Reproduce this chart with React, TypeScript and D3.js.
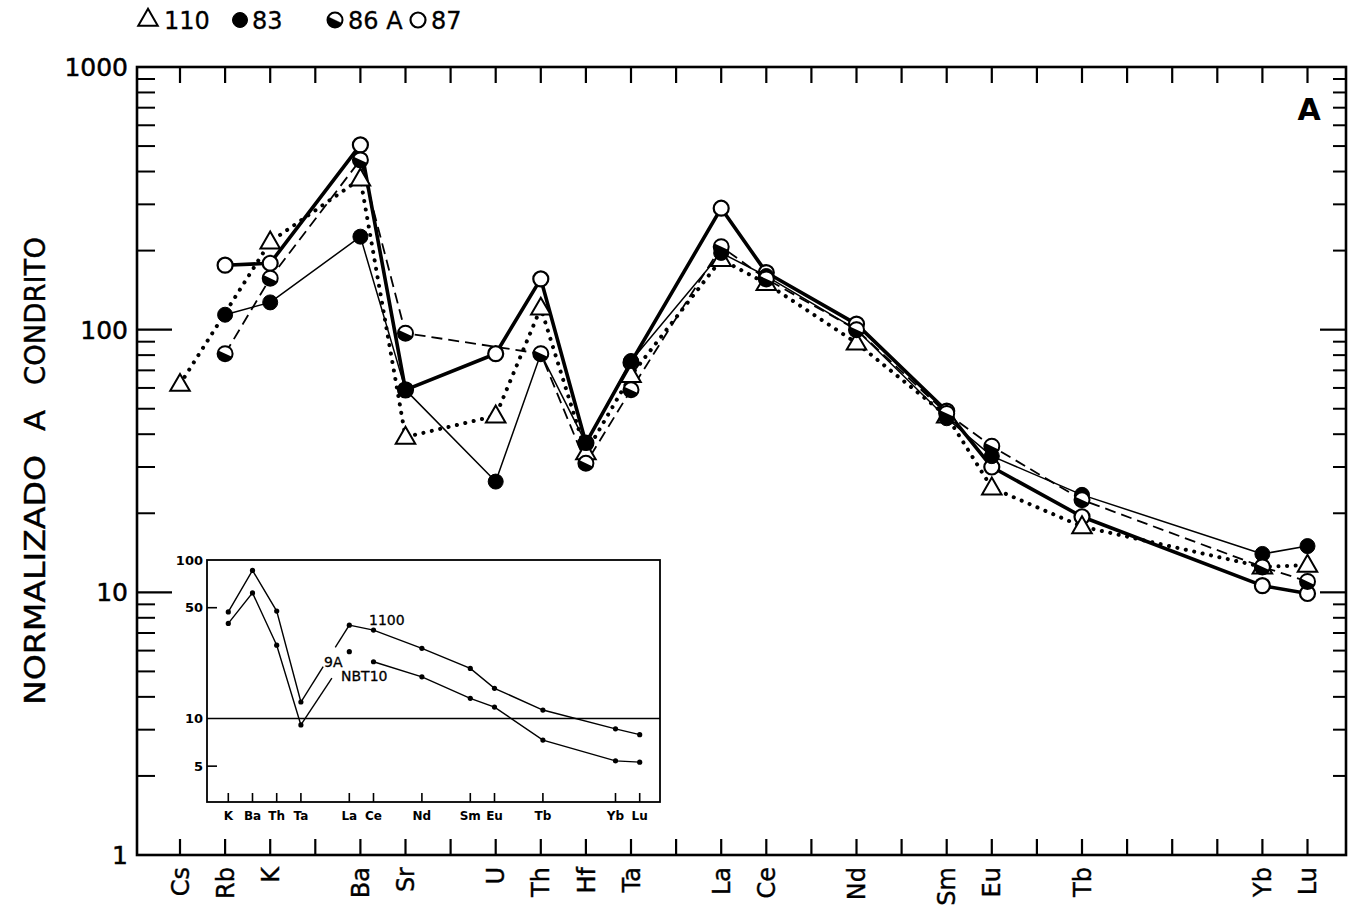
import React from 'react';
import * as d3 from 'd3';

// ---------- data ----------
const elements = ['Cs', 'Rb', 'K', 'Ba', 'Sr', 'U', 'Th', 'Hf', 'Ta', 'La', 'Ce', 'Nd', 'Sm', 'Eu', 'Tb', 'Yb', 'Lu'];
const elementSlots = [0, 1, 2, 4, 5, 7, 8, 9, 10, 12, 13, 15, 17, 18, 20, 24, 25];
const s110 = [62, null, 216, 375, 39, 47, 121, 34, 67, 185, 150, 89, 47, 25, 17.8, 12.5, 12.7];
const s83 = [null, 114, 127, 226, 59, 26.4, 81, 37, 76, 196, 160, 100, 46, 33, 23.5, 14, 15];
const s86A = [null, 81, 157, 443, 97, null, 81, 31, 59, 207, 156, 100, 48, 36, 22.5, 12.5, 11];
const s87 = [null, 176, 179, 505, 59, 81, 156, 37, 75, 290, 165, 105, 49, 30, 19.4, 10.6, 9.9];
const yTickLabels = [1, 10, 100, 1000];

const insetElements = ['K', 'Ba', 'Th', 'Ta', 'La', 'Ce', 'Nd', 'Sm', 'Eu', 'Tb', 'Yb', 'Lu'];
const insetSlots = [0, 1, 2, 3, 5, 6, 8, 10, 11, 13, 16, 17];
const s1100 = [47, 86, 47.6, 12.7, 38.8, 36.1, 27.7, 20.7, 15.5, 11.3, 8.6, 7.9];
const sNBT10 = [39.8, 62, 29, 9.1, 26.4, 22.8, 18.3, 13.4, 11.8, 7.3, 5.4, 5.3];
const insetTickLabels = [5, 10, 50, 100];

type Pt = [number, number];

const FONT = 'DejaVu Sans, Verdana, sans-serif';

// ---------- layout ----------
const W = 1352, H = 907;
const frame = { left: 137, right: 1346, top: 67, bottom: 855 };
const x = d3.scaleLinear().domain([0, 25]).range([180, 1307.5]);
const y = d3.scaleLog().domain([1, 1000]).range([855, 67]);

const inset = { left: 207, right: 660, top: 560, bottom: 802 };
const xi = d3.scaleLinear().domain([0, 17]).range([228.3, 639.7]);
const yi = d3.scaleLog().domain([2.97, 100]).range([802, 560]);

const line = d3.line<Pt>().x(d => x(d[0])).y(d => y(d[1]));
const lineI = d3.line<Pt>().x(d => xi(d[0])).y(d => yi(d[1]));

function pts(vals: (number | null)[]): Pt[] {
  const out: Pt[] = [];
  vals.forEach((v, i) => { if (v != null) out.push([elementSlots[i], v]); });
  return out;
}
function ipts(vals: number[], from: number, to: number): Pt[] {
  const out: Pt[] = [];
  for (let i = from; i <= to; i++) out.push([insetSlots[i], vals[i]]);
  return out;
}
function partSeg(a: Pt, b: Pt, t0: number, t1: number) {
  const ax = xi(a[0]), ay = yi(a[1]), bx = xi(b[0]), by = yi(b[1]);
  return `M${ax + (bx - ax) * t0},${ay + (by - ay) * t0}L${ax + (bx - ax) * t1},${ay + (by - ay) * t1}`;
}

const R = 7.5;
function halfPath(r: number) {
  const a0 = (-155 * Math.PI) / 180, a1 = (25 * Math.PI) / 180;
  return `M${r * Math.cos(a0)},${r * Math.sin(a0)}A${r},${r} 0 0 0 ${r * Math.cos(a1)},${r * Math.sin(a1)}Z`;
}
const triPath = d3.symbol(d3.symbolTriangle, 165)() as string;

function Marker({ kind, cx, cy }: { kind: string; cx: number; cy: number }) {
  if (kind === 'tri')
    return <path d={triPath} transform={`translate(${cx},${cy + 1})`} fill="#fff" stroke="#000" strokeWidth={2} />;
  if (kind === 'filled') return <circle cx={cx} cy={cy} r={R} fill="#000" stroke="#000" strokeWidth={1} />;
  if (kind === 'open') return <circle cx={cx} cy={cy} r={R} fill="#fff" stroke="#000" strokeWidth={2.2} />;
  return (
    <g transform={`translate(${cx},${cy})`}>
      <circle r={R} fill="#fff" stroke="#000" strokeWidth={2} />
      <path d={halfPath(R)} fill="#000" />
    </g>
  );
}

const series = [
  { name: '87', vals: s87, kind: 'open', width: 3.6, dash: undefined as string | undefined, cap: 'butt' },
  { name: '110', vals: s110, kind: 'tri', width: 4, dash: '0.1 8.5', cap: 'round' },
  { name: '83', vals: s83, kind: 'filled', width: 1.5, dash: undefined, cap: 'butt' },
  { name: '86A', vals: s86A, kind: 'half', width: 1.8, dash: '11 6', cap: 'butt' },
];

export default function App() {
  const minorTicks: number[] = [];
  for (const dec of [1, 10, 100]) for (let k = 2; k <= 9; k++) minorTicks.push(dec * k);
  const slots = d3.range(0, 26);

  return (
    <svg width={W} height={H} style={{ position: 'absolute', left: 0, top: 0, background: '#fff' }} fontFamily={FONT}>
      <rect width={W} height={H} fill="#fff" />

      {/* legend */}
      <g fontSize={24} stroke="#000" strokeWidth={0.3}>
        <Marker kind="tri" cx={148} cy={19} />
        <text x={164} y={29} fill="#000">110</text>
        <Marker kind="filled" cx={240} cy={20} />
        <text x={252} y={29} fill="#000">83</text>
        <Marker kind="half" cx={335} cy={20} />
        <text x={348} y={29} fill="#000">86 A</text>
        <Marker kind="open" cx={418} cy={20} />
        <text x={431} y={29} fill="#000">87</text>
      </g>

      {/* y title */}
      <g fontSize={28} stroke="#000" strokeWidth={0.4} fill="#000">
        <text transform="translate(45,705) rotate(-90)" textLength={250} lengthAdjust="spacingAndGlyphs">NORMALIZADO</text>
        <text transform="translate(45,431) rotate(-90)" textLength={21} lengthAdjust="spacingAndGlyphs">A</text>
        <text transform="translate(45,385) rotate(-90)" textLength={148} lengthAdjust="spacingAndGlyphs">CONDRITO</text>
      </g>

      {/* y tick labels */}
      <g fontSize={25} stroke="#000" strokeWidth={0.5} fill="#000" textAnchor="end">
        {yTickLabels.map(v => (
          <text key={v} x={128} y={y(v)} dy="0.36em">{v}</text>
        ))}
      </g>

      {/* frame ticks */}
      <g stroke="#000">
        {minorTicks.map(v => (
          <g key={v}>
            <line x1={frame.left} x2={frame.left + 18} y1={y(v)} y2={y(v)} strokeWidth={2} />
            <line x1={frame.right} x2={frame.right - 13} y1={y(v)} y2={y(v)} strokeWidth={2} />
          </g>
        ))}
        {[10, 100].map(v => (
          <g key={v}>
            <line x1={frame.left} x2={frame.left + 35} y1={y(v)} y2={y(v)} strokeWidth={2.2} />
            <line x1={frame.right} x2={frame.right - 26} y1={y(v)} y2={y(v)} strokeWidth={2.2} />
          </g>
        ))}
        {slots.map(s => (
          <g key={s}>
            <line x1={x(s)} x2={x(s)} y1={frame.top} y2={frame.top + 16} strokeWidth={2.2} />
            <line x1={x(s)} x2={x(s)} y1={frame.bottom} y2={frame.bottom - 16} strokeWidth={2.2} />
          </g>
        ))}
        <rect x={frame.left} y={frame.top} width={frame.right - frame.left} height={frame.bottom - frame.top}
          fill="none" strokeWidth={2.6} />
      </g>

      {/* x labels */}
      <g fontSize={24} stroke="#000" strokeWidth={0.4} fill="#000" textAnchor="end">
        {elements.map((e, i) => (
          <text key={e} transform={`translate(${x(elementSlots[i])},867) rotate(-90)`} dy="0.36em">{e}</text>
        ))}
      </g>

      <text x={1309} y={120} fontSize={30} fontWeight="bold" textAnchor="middle" fill="#000">A</text>

      {/* inset */}
      <g>
        <rect x={inset.left} y={inset.top} width={inset.right - inset.left} height={inset.bottom - inset.top}
          fill="#fff" stroke="#000" strokeWidth={1.8} />
        <line x1={inset.left} x2={inset.right} y1={yi(10)} y2={yi(10)} stroke="#000" strokeWidth={1.6} />
        {[5, 50].map(v => (
          <line key={v} x1={inset.left} x2={inset.left + 10} y1={yi(v)} y2={yi(v)} stroke="#000" strokeWidth={1.6} />
        ))}
        {insetSlots.map(s => (
          <line key={s} x1={xi(s)} x2={xi(s)} y1={inset.bottom} y2={inset.bottom - 9} stroke="#000" strokeWidth={1.6} />
        ))}
        <g fontSize={13} fontWeight="bold" fill="#000" textAnchor="end">
          {insetTickLabels.map(v => (
            <text key={v} x={203} y={yi(v)} dy="0.36em">{v}</text>
          ))}
        </g>
        <g fontSize={12} fontWeight="bold" fill="#000" textAnchor="middle">
          {insetElements.map((e, i) => (
            <text key={e} x={xi(insetSlots[i])} y={820}>{e}</text>
          ))}
        </g>
        <g fill="none" stroke="#000" strokeWidth={1.4}>
          <path d={lineI(ipts(s1100, 0, 3)) as string} />
          <path d={partSeg([insetSlots[3], s1100[3]], [insetSlots[4], s1100[4]], 0, 0.46)} />
          <path d={partSeg([insetSlots[3], s1100[3]], [insetSlots[4], s1100[4]], 0.71, 1)} />
          <path d={lineI(ipts(s1100, 4, 11)) as string} />
          <path d={lineI(ipts(sNBT10, 0, 3)) as string} />
          <path d={partSeg([insetSlots[3], sNBT10[3]], [insetSlots[4], sNBT10[4]], 0, 0.64)} />
          <path d={lineI(ipts(sNBT10, 5, 11)) as string} />
        </g>
        <g fill="#000">
          {s1100.map((v, i) => <circle key={'a' + i} cx={xi(insetSlots[i])} cy={yi(v)} r={2.6} />)}
          {sNBT10.map((v, i) => <circle key={'b' + i} cx={xi(insetSlots[i])} cy={yi(v)} r={2.6} />)}
        </g>
        <g fontSize={14} fill="#000" stroke="#000" strokeWidth={0.3}>
          <text x={369} y={625}>1100</text>
          <text x={324} y={667}>9A</text>
          <text x={341} y={681}>NBT10</text>
        </g>
      </g>

      {/* series lines */}
      <g fill="none" stroke="#000">
        {series.map(s => (
          <path key={s.name} d={line(pts(s.vals)) as string} strokeWidth={s.width}
            strokeDasharray={s.dash} strokeLinecap={s.cap as any} strokeLinejoin="round" />
        ))}
      </g>
      {/* markers */}
      {series.map(s => (
        <g key={s.name}>
          {pts(s.vals).map((p, i) => <Marker key={i} kind={s.kind} cx={x(p[0])} cy={y(p[1])} />)}
        </g>
      ))}
    </svg>
  );
}
